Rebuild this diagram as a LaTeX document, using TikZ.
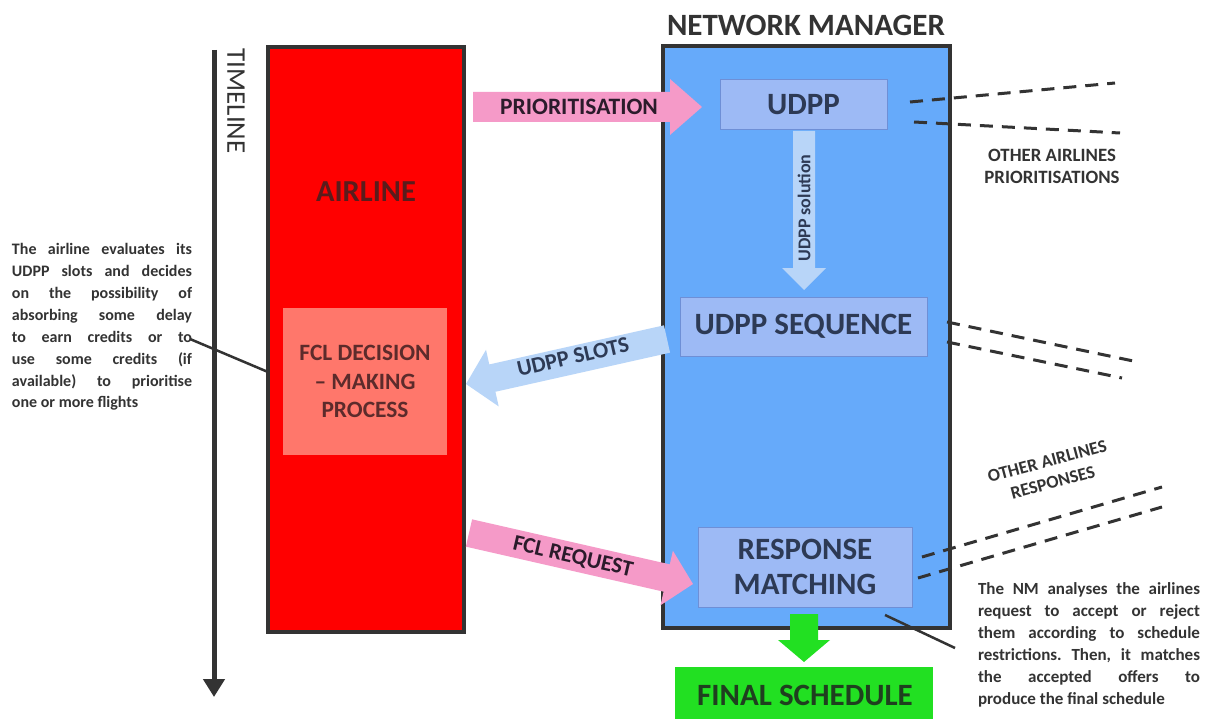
\documentclass[tikz,border=0pt]{standalone}
\usepackage{fontspec}
\setmainfont{Carlito}
\usetikzlibrary{arrows.meta,calc}
\frenchspacing
\definecolor{airred}{HTML}{FF0000}
\definecolor{salmon}{HTML}{FF776B}
\definecolor{nmblue}{HTML}{66AAFA}
\definecolor{innerblue}{HTML}{9DBAF5}
\definecolor{innerborder}{HTML}{6E8FD6}
\definecolor{lightarrow}{HTML}{B8D5F8}
\definecolor{pinkarrow}{HTML}{F59AC8}
\definecolor{greenbox}{HTML}{22E022}
\definecolor{darkline}{HTML}{333333}
\definecolor{redtext}{HTML}{5A1C1C}
\definecolor{fcltext}{HTML}{5C2B2B}
\definecolor{bluetext}{HTML}{2D3A55}
\definecolor{pinktext}{HTML}{2B1B2B}
\definecolor{greentext}{HTML}{1F3F1F}
\newcommand{\fsz}[2]{\fontsize{#1}{#2}\selectfont\bfseries}
\newcommand{\jl}[2]{\hbox to #1{#2}}
\newcommand{\blockarr}[7]{%
  \coordinate (#7-h) at ($(#2)!#5!(#1)$);
  \fill[#6] ($(#1)!#3!90:(#2)$) -- ($(#7-h)!#3!90:(#2)$) -- ($(#7-h)!#4!90:(#2)$) -- (#2)
     -- ($(#7-h)!#4!-90:(#2)$) -- ($(#7-h)!#3!-90:(#2)$) -- ($(#1)!#3!-90:(#2)$) -- cycle;}
\tikzset{
  bigbox/.style={draw=darkline, line width=3.5pt, inner sep=0pt},
  innerbox/.style={draw=innerborder, line width=1pt, fill=innerblue, inner sep=0pt, text=bluetext, align=center},
  dashline/.style={draw=darkline, line width=3pt, dash pattern=on 13pt off 9pt},
  leader/.style={draw=darkline, line width=2.5pt},
  annot/.style={text=darkline, inner sep=0pt, align=left},
}
\begin{document}
\begin{tikzpicture}[x=1pt, y=-1pt]
\useasboundingbox[fill=white] (0,0) rectangle (1206,719);

% timeline
\coordinate (tl0) at (214,50);
\coordinate (tl1) at (214,697);
\draw[draw=darkline, line width=5pt, -{Triangle[length=18pt,width=21pt]}] (tl0) -- (tl1);
\node[rotate=-90, text=darkline, inner sep=0pt, font=\fontsize{27}{27}\selectfont] (timeline) at (236,101) {TIMELINE};

% airline box
\node[bigbox, fill=airred, minimum width=196pt, minimum height=585pt] (airline) at (366,339.5) {};
\node[text=redtext, inner sep=0pt, font=\fsz{30.5}{30.5}] (airlinelbl) at (366,192) {AIRLINE};
\node[fill=salmon, minimum width=164pt, minimum height=147pt, inner sep=0pt, text=fcltext, align=center, font=\fsz{23.4}{28.5}] (fcl) at (365,381.5)
  {FCL DECISION\\ -- MAKING\\ PROCESS};

% network manager
\node[text=darkline, inner sep=0pt, font=\fsz{31}{31}] (nmtitle) at (806,25) {NETWORK MANAGER};
\node[bigbox, fill=nmblue, minimum width=287pt, minimum height=582pt] (nm) at (806.5,337) {};
\node[innerbox, minimum width=167pt, minimum height=50pt, font=\fsz{31}{31}] (udpp) at (803.5,105) {UDPP};
\node[innerbox, minimum width=247pt, minimum height=59pt, font=\fsz{31}{31}] (seq) at (803.5,326.5) {UDPP SEQUENCE};
\node[innerbox, minimum width=214pt, minimum height=80pt, font=\fsz{31}{35}] (resp) at (805,567)
  {RESPONSE\\ MATCHING};

% UDPP solution arrow
\coordinate (solA) at (804,131);
\coordinate (solB) at (804,290);
\blockarr{solA}{solB}{11pt}{22pt}{22pt}{lightarrow}{sol}
\node[rotate=90, text=bluetext, inner sep=0pt, font=\fsz{18}{18}] (sollbl) at (804,208) {UDPP solution};

% prioritisation arrow
\coordinate (prA) at (473,107);
\coordinate (prB) at (702,107);
\blockarr{prA}{prB}{15pt}{28pt}{32pt}{pinkarrow}{pr}
\node[text=pinktext, inner sep=0pt, font=\fsz{23.5}{23.5}] (prlbl) at (579,107) {PRIORITISATION};

% UDPP slots arrow
\coordinate (slA) at (667,339);
\coordinate (slB) at (466,384);
\blockarr{slA}{slB}{14pt}{29pt}{27pt}{lightarrow}{sl}
\node[rotate=13, text=bluetext, inner sep=0pt, font=\fsz{22.5}{22.5}] (sllbl) at (573,357) {UDPP SLOTS};

% FCL request arrow
\coordinate (frA) at (469,533);
\coordinate (frB) at (693,584);
\blockarr{frA}{frB}{14pt}{28pt}{27pt}{pinkarrow}{fr}
\node[rotate=-13, text=pinktext, inner sep=0pt, font=\fsz{22.5}{22.5}] (frlbl) at (573,557) {FCL REQUEST};

% final schedule
\coordinate (fsA) at (804,614);
\coordinate (fsB) at (804,662);
\blockarr{fsA}{fsB}{14pt}{26pt}{22pt}{greenbox}{fs}
\node[fill=greenbox, minimum width=258pt, minimum height=66pt, inner sep=0pt] (final) at (804,700) {};
\node[text=greentext, inner sep=0pt, font=\fsz{31}{31}] (finallbl) at (805,695) {FINAL SCHEDULE};

% dashed lines
\coordinate (d1a) at (910,102);  \coordinate (d1b) at (1115,83);
\coordinate (d2a) at (914,122);  \coordinate (d2b) at (1120,133);
\coordinate (d3a) at (947,322);  \coordinate (d3b) at (1138,362);
\coordinate (d4a) at (947,342);  \coordinate (d4b) at (1122,378);
\coordinate (d5a) at (922,557);  \coordinate (d5b) at (1162,487);
\coordinate (d6a) at (918,578);  \coordinate (d6b) at (1162,507);
\draw[dashline] (d1a) -- (d1b);
\draw[dashline] (d2a) -- (d2b);
\draw[dashline] (d3a) -- (d3b);
\draw[dashline] (d4a) -- (d4b);
\draw[dashline] (d5a) -- (d5b);
\draw[dashline] (d6a) -- (d6b);

\node[text=darkline, align=center, inner sep=0pt, font=\fsz{18.8}{22}] (othprio) at (1052,166)
  {OTHER AIRLINES\\ PRIORITISATIONS};
\node[text=darkline, align=center, inner sep=0pt, rotate=15, font=\fsz{18}{22}] (othresp) at (1050,472)
  {OTHER AIRLINES\\ RESPONSES};

% left annotation
\node[annot, font=\fsz{16}{21.9}] (leftnote) at (102,327) {%
  \jl{180pt}{The airline evaluates its}\\
  \jl{180pt}{UDPP slots and decides}\\
  \jl{180pt}{on the possibility of}\\
  \jl{180pt}{absorbing some delay}\\
  \jl{180pt}{to earn credits or to}\\
  \jl{180pt}{use some credits (if}\\
  \jl{180pt}{available) to prioritise}\\
  \jl{180pt}{one or more flights\hfil}};
\coordinate (lnA) at (190,339);
\coordinate (lnB) at (268,372);
\draw[leader] (lnA) -- (lnB);

% right annotation
\node[annot, font=\fsz{17}{22}] (rightnote) at (1089,645) {%
  \jl{222pt}{The NM analyses the airlines}\\
  \jl{222pt}{request to accept or reject}\\
  \jl{222pt}{them according to schedule}\\
  \jl{222pt}{restrictions. Then, it matches}\\
  \jl{222pt}{the accepted offers to}\\
  \jl{222pt}{produce the final schedule\hfil}};
\coordinate (rnA) at (885,615);
\coordinate (rnB) at (955,648);
\draw[leader] (rnA) -- (rnB);
\end{tikzpicture}
\end{document}
